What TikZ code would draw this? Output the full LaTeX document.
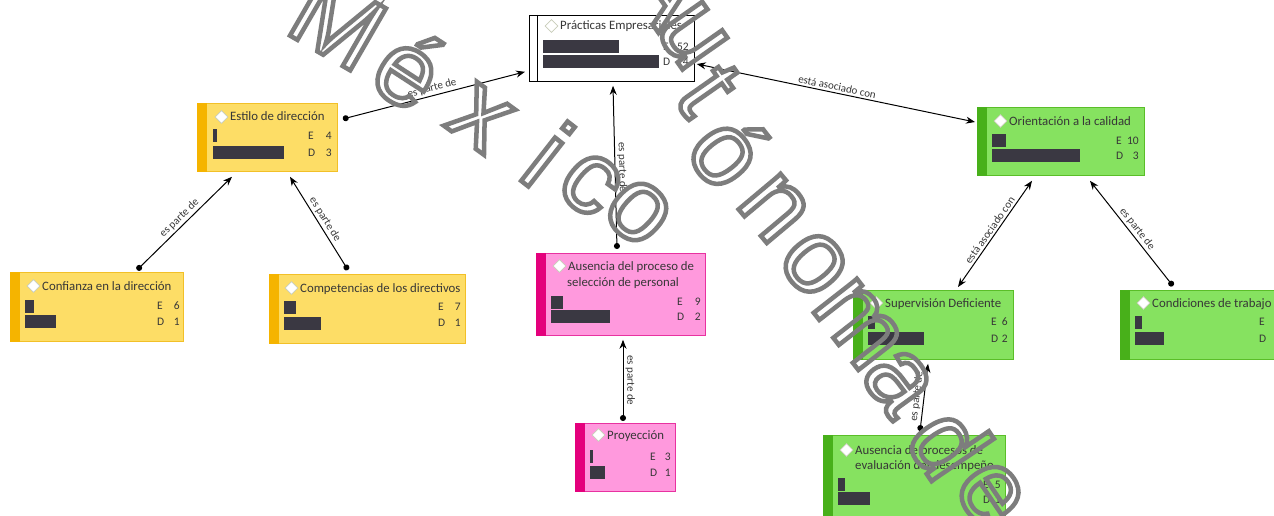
\documentclass[tikz,border=0pt]{standalone}
\usepackage{fontspec}
\setmainfont{Carlito}
\newfontfamily\wmfont{Liberation Sans}
\usetikzlibrary{arrows.meta,calc,shapes.geometric}
\definecolor{yfill}{RGB}{253,221,102}
\definecolor{ystrip}{RGB}{245,180,0}
\definecolor{yline}{RGB}{242,192,40}
\definecolor{pfill}{RGB}{255,153,221}
\definecolor{pstrip}{RGB}{228,0,124}
\definecolor{pline}{RGB}{232,50,160}
\definecolor{gfill}{RGB}{134,226,96}
\definecolor{gstrip}{RGB}{72,176,26}
\definecolor{gline}{RGB}{90,190,40}
\definecolor{barc}{RGB}{58,56,66}
\definecolor{txt}{RGB}{55,55,55}
\definecolor{dline}{RGB}{200,205,185}
\definecolor{wmc}{RGB}{125,125,125}
\tikzset{
  ent/.style={rectangle, anchor=north west, inner sep=0pt, line width=0.8pt},
  went/.style={ent, fill=white, draw=black},
  yent/.style={ent, fill=yfill, draw=yline},
  pent/.style={ent, fill=pfill, draw=pline},
  gent/.style={ent, fill=gfill, draw=gline},
  dia/.style={diamond, minimum width=13pt, minimum height=13pt, inner sep=0pt, fill=white, draw=dline, line width=0.8pt},
  ttl/.style={anchor=base west, inner sep=0pt, font=\fontsize{12.8}{15}\selectfont, text=txt},
  vl/.style={anchor=base west, inner sep=0pt, font=\fontsize{11.5}{13}\selectfont, text=txt},
  vr/.style={anchor=base east, inner sep=0pt, font=\fontsize{11.5}{13}\selectfont, text=txt},
  lnk/.style={line width=1pt, black},
  lbl/.style={font=\fontsize{11}{13}\selectfont, sloped, above=1pt, text=txt, inner sep=1pt},
  wmk/.style={inner sep=0pt, font=\wmfont\fontsize{104}{104}\selectfont, text=wmc},
  dot/.tip={Circle[length=6pt]},
  tip/.tip={Stealth[length=9pt,width=7pt]}
}
\newcommand\entity[7]{%
  \node[#2, minimum width=#5pt, minimum height=#6pt] (#1) at (#3,#4) {};
  \fill[#7] (#1.north west) rectangle ($(#1.south west)+(10,0)$);}
\newcommand\etitle[4]{%
  \node[dia] (#1-i) at ({#2-8.5},#3) {};
  \node[ttl] (#1-t) at (#2,{#3+4}) {#4};}
\newcommand\rowvals[7]{%
  \node[vl] (#1-e) at (#2,{#4+3.7}) {E};
  \node[vr] (#1-en) at (#3,{#4+3.7}) {#6};
  \node[vl] (#1-d) at (#2,{#5+3.7}) {D};
  \node[vr] (#1-dn) at (#3,{#5+3.7}) {#7};}
\newcommand\rowbars[5]{%
  \fill[barc] (#1,{#4-6.5}) rectangle (#2,{#4+6.5});
  \fill[barc] (#1,{#5-6.5}) rectangle (#3,{#5+6.5});}
\newcommand\outl[1]{\special{pdf:literal direct 1 Tr 4.5 w}#1\special{pdf:literal direct 0 Tr 0.4 w}}
\newcommand\wml[5]{\node[wmk, rotate=#5] (wm#1) at (#3,#4) {\outl{#2}};}
\begin{document}
\begin{tikzpicture}[x=1pt,y=-1pt]
\useasboundingbox (0,0) rectangle (1274,516);
\fill[white] (0,0) rectangle (1274,516);
\clip (0,0) rectangle (1274,516);

% Prácticas Empresariales
\node[went, minimum width=165pt, minimum height=66pt] (prac) at (529,15) {};
\draw[line width=0.8pt] ($(prac.north west)+(8,0)$) -- ($(prac.south west)+(8,0)$);
\etitle{prac}{560}{26}{Prácticas Empresariales}
\rowbars{543}{619}{659}{46.5}{62}
\rowvals{prac}{663}{689}{46.5}{62}{52}{4}

% Estilo de dirección
\entity{estilo}{yent}{197}{103}{140}{68}{ystrip}
\etitle{estilo}{230}{117}{Estilo de dirección}
\rowbars{213}{217}{284}{136}{152.5}
\rowvals{estilo}{308}{332}{136}{152.5}{4}{3}

% Confianza en la dirección
\entity{conf}{yent}{10}{272}{173}{69}{ystrip}
\etitle{conf}{42}{286}{Confianza en la dirección}
\rowbars{25}{34}{56}{306}{321.5}
\rowvals{conf}{157}{180}{306}{321.5}{6}{1}

% Competencias de los directivos
\entity{comp}{yent}{269}{274}{196}{69}{ystrip}
\etitle{comp}{300}{288}{Competencias de los directivos}
\rowbars{284}{296}{321}{307}{323}
\rowvals{comp}{438}{461}{307}{323}{7}{1}

% Ausencia del proceso de selección de personal
\entity{sel}{pent}{536}{253}{169}{82}{pstrip}
\etitle{sel}{568}{266}{Ausencia del proceso de}
\node[ttl] (sel-t2) at (567,286) {selección de personal};
\rowbars{551}{563}{610}{302}{316}
\rowvals{sel}{677}{701}{302}{316.5}{9}{2}

% Proyección
\entity{proy}{pent}{575}{423}{100}{68}{pstrip}
\etitle{proy}{607}{435}{Proyección}
\rowbars{590}{593}{605}{456}{472}
\rowvals{proy}{650}{671}{457}{473}{3}{1}

% Orientación a la calidad
\entity{orient}{gent}{977}{107}{167}{68}{gstrip}
\etitle{orient}{1009}{121}{Orientación a la calidad}
\rowbars{992}{1006}{1080}{140.5}{155.5}
\rowvals{orient}{1116}{1139}{141}{156}{10}{3}

% Supervisión Deficiente
\entity{superv}{gent}{853}{290}{160}{69}{gstrip}
\etitle{superv}{885}{303}{Supervisión Deficiente}
\rowbars{868}{875}{924}{322}{338.5}
\rowvals{superv}{991}{1008}{322}{339}{6}{2}

% Condiciones de trabajo
\entity{cond}{gent}{1120}{290}{170}{69}{gstrip}
\etitle{cond}{1152}{303}{Condiciones de trabajo}
\rowbars{1135}{1142}{1164}{322}{338.5}
\node[vl] (cond-e) at (1259,325.7) {E};
\node[vl] (cond-d) at (1259,342.7) {D};

% Ausencia de procesos de evaluación del desempeño
\entity{eval}{gent}{823}{435}{182}{90}{gstrip}
\etitle{eval}{855}{450}{Ausencia de procesos de}
\node[ttl] (eval-t2) at (855,469) {evaluación del desempeño};
\rowbars{838}{845}{870}{484.5}{498.5}
\rowvals{eval}{983}{1001}{485}{500}{5}{1}

% connectors
\draw[lnk, dot-tip] ($(estilo.north east)+(5,16)$) -- node[lbl]{es parte de} ($(prac.south west)+(-4,-10)$);
\draw[lnk, tip-tip] ($(prac.north east)+(2,49)$) -- node[lbl]{está asociado con} ($(orient.north west)+(-2,15)$);
\draw[lnk, dot-tip] ($(conf.north west)+(127,-2)$) -- node[lbl]{es parte de} ($(estilo.south west)+(35,5)$);
\draw[lnk, tip-dot] ($(estilo.south west)+(93,5)$) -- node[lbl]{es parte de} ($(comp.north west)+(79,-4)$);
\draw[lnk, tip-dot] ($(prac.south west)+(84,4)$) -- node[lbl]{es parte de} ($(sel.north west)+(81,-4)$);
\draw[lnk, tip-dot] ($(sel.south west)+(87,4)$) -- node[lbl]{es parte de} ($(proy.north west)+(48,-2)$);
\draw[lnk, tip-tip] ($(superv.north west)+(105,-3)$) -- node[lbl]{está asociado con} ($(orient.south west)+(55,5)$);
\draw[lnk, tip-dot] ($(orient.south west)+(113,5)$) -- node[lbl]{es parte de} ($(cond.north west)+(53,-4)$);
\draw[lnk, dot-tip] ($(eval.north west)+(97,-4)$) -- node[lbl]{es parte de} ($(superv.south west)+(75,4)$);

% watermark
\wml{1}{M}{338}{22}{-30}
\wml{2}{é}{410}{68}{-33}
\wml{3}{x}{480}{118}{-36}
\wml{4}{i}{548}{154}{-38}
\wml{5}{c}{590}{184}{-40}
\wml{6}{o}{638}{212}{-42}
\wml{7}{A}{668}{-16}{-55}
\wml{8}{u}{692}{36}{-55}
\wml{9}{t}{708}{90}{-55}
\wml{10}{ó}{730}{150}{-52}
\wml{11}{n}{774}{208}{-50}
\wml{12}{o}{814}{264}{-50}
\wml{13}{m}{858}{324}{-52}
\wml{14}{a}{898}{382}{-54}
\wml{15}{d}{950}{442}{-56}
\wml{16}{e}{990}{494}{-56}
\end{tikzpicture}
\end{document}
